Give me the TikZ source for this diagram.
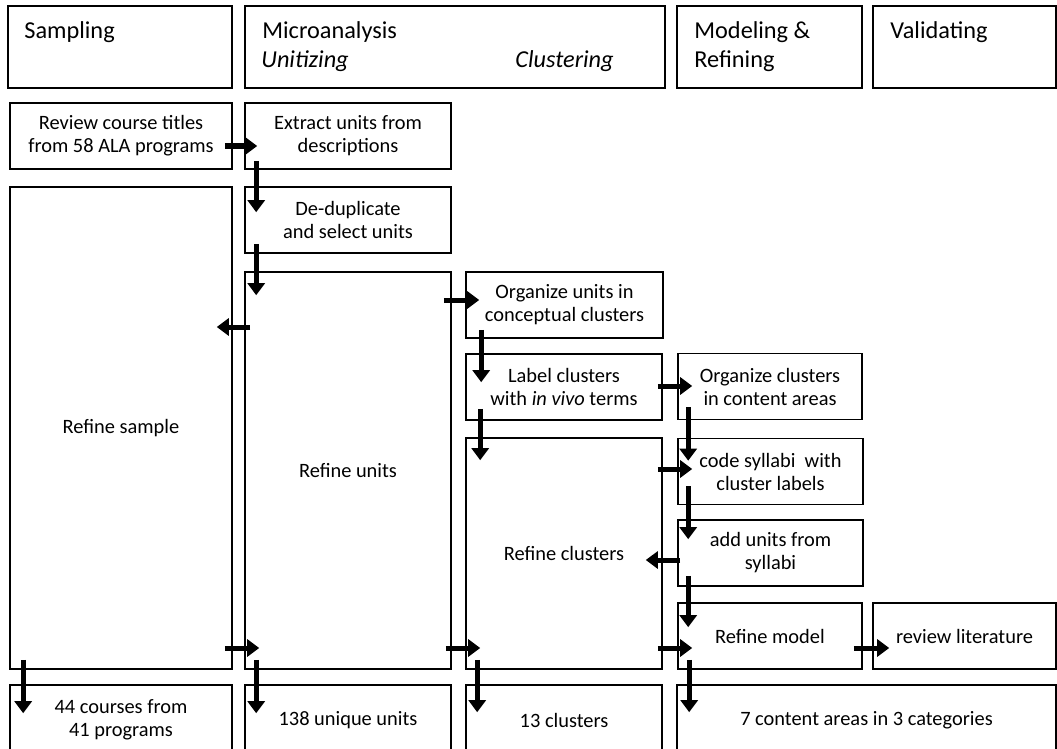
\documentclass[tikz,border=0pt]{standalone}
\usepackage{fontspec}
\setmainfont{Carlito}
\usetikzlibrary{arrows.meta}

\begin{document}
\begin{tikzpicture}[
    x=1pt, y=-1pt,
    every node/.style={font=\fontsize{20.4}{23}\selectfont},
    header/.style={
        rectangle,
        draw=black,
        line width=1.6pt,
        inner sep=0pt,
        minimum height=82pt
    },
    headtext/.style={
        anchor=base west,
        inner sep=0pt,
        font=\fontsize{24.3}{30}\selectfont
    },
    stage/.style={
        rectangle,
        draw=black,
        line width=1.6pt,
        align=center,
        inner sep=0pt,
        minimum height=66pt
    },
    flow/.style={
        -{Triangle[length=12pt, width=17pt]},
        line width=5pt
    }
]

\useasboundingbox (0,0) rectangle (1057,749);
\clip (0,0) rectangle (1057,749);

% Phase headers
\node[header, minimum width=224pt] (samp) at (120,47) {};
\node[header, minimum width=420pt] (micro) at (455,47) {};
\node[header, minimum width=185pt] (model) at (769.5,47) {};
\node[header, minimum width=183pt] (valid) at (964.5,47) {};

\node[headtext] (samplbl) at ([shift={(17,33)}]samp.north west) {Sampling};
\node[headtext] (microlbl) at ([shift={(18,33)}]micro.north west) {Microanalysis};
\node[headtext] (unitlbl) at ([shift={(17,62)}]micro.north west) {\itshape Unitizing};
\node[headtext] (clustlbl) at ([shift={(271,62)}]micro.north west) {\itshape Clustering};
\node[headtext] (modlbl) at ([shift={(18,33)}]model.north west) {Modeling \&};
\node[headtext] (reflbl) at ([shift={(18,62)}]model.north west) {Refining};
\node[headtext] (validlbl) at ([shift={(18,33)}]valid.north west) {Validating};

% Steps
\node[stage, minimum width=222pt] (review) at (121,136) {Review course titles\\from 58 ALA programs};
\node[stage, minimum width=206pt] (extract) at (348,136) {Extract units from\\descriptions};
\node[stage, minimum width=206pt] (dedup) at (348,220) {De-duplicate\\and select units};
\node[stage, minimum width=222pt, minimum height=482pt] (rsample) at (121,428) {Refine sample};
\node[stage, minimum width=206pt, minimum height=397pt] (runits) at (348,470.5) {Refine units};
\node[stage, minimum width=197pt] (orgunits) at (564.5,305) {Organize units in\\conceptual clusters};
\node[stage, minimum width=196pt] (label) at (564,387) {Label clusters\\with \textit{in vivo} terms};
\node[stage, minimum width=196pt, minimum height=231pt] (rclusters) at (564,553.5) {Refine clusters};
\node[stage, minimum width=184pt] (orgclus) at (770,386.5) {Organize clusters\\in content areas};
\node[stage, minimum width=185pt] (code) at (770.5,471.5) {code syllabi\ \ with\\cluster labels};
\node[stage, minimum width=185pt] (addunits) at (770.5,553) {add units from\\syllabi};
\node[stage, minimum width=184pt] (rmodel) at (770,636) {Refine model};
\node[stage, minimum width=183pt] (revlit) at (964.5,636) {review literature};

% Results
\node[stage, minimum width=222pt, minimum height=70pt] (c44) at (121,720) {44 courses from\\41 programs};
\node[stage, minimum width=206pt, minimum height=70pt] (u138) at (348,720) {138 unique units};
\node[stage, minimum width=196pt, minimum height=70pt] (c13) at (564,720) {13 clusters};
\node[stage, minimum width=379pt, minimum height=70pt] (ca7) at (866.5,720) {7 content areas in 3 categories};

% Flow arrows
\draw[flow] ([shift={(-8,10)}]review.east) -- ([shift={(13,10)}]extract.west);
\draw[flow] ([shift={(12,-9)}]extract.south west) -- ([shift={(12,26)}]dedup.north west);
\draw[flow] ([shift={(12,-10)}]dedup.south west) -- ([shift={(12,24)}]runits.north west);
\draw[flow] ([shift={(6,-143.5)}]runits.west) -- ([shift={(-16,-101)}]rsample.east);
\draw[flow] ([shift={(-8,-170.5)}]runits.east) -- ([shift={(14,-5)}]orgunits.west);
\draw[flow] ([shift={(16,-9)}]orgunits.south west) -- ([shift={(16,29)}]label.north west);
\draw[flow] ([shift={(15,-12)}]label.south west) -- ([shift={(15,23)}]rclusters.north west);
\draw[flow] ([shift={(-5,-1)}]label.east) -- ([shift={(15,-0.5)}]orgclus.west);
\draw[flow] ([shift={(11,-13)}]orgclus.south west) -- ([shift={(11,23)}]code.north west);
\draw[flow] ([shift={(-5,-84.5)}]rclusters.east) -- ([shift={(15,-2.5)}]code.west);
\draw[flow] ([shift={(11,-19)}]code.south west) -- ([shift={(11,20)}]addunits.north west);
\draw[flow] ([shift={(3,7)}]addunits.west) -- ([shift={(-17,6.5)}]rclusters.east);
\draw[flow] ([shift={(11,-11)}]addunits.south west) -- ([shift={(11,25)}]rmodel.north west);
\draw[flow] ([shift={(-5,94.5)}]rclusters.east) -- ([shift={(15,12)}]rmodel.west);
\draw[flow] ([shift={(-6,177.5)}]runits.east) -- ([shift={(15,94.5)}]rclusters.west);
\draw[flow] ([shift={(-8,220)}]rsample.east) -- ([shift={(15,177.5)}]runits.west);
\draw[flow] ([shift={(-9,12)}]rmodel.east) -- ([shift={(17,12)}]revlit.west);

% Down to results
\draw[flow] ([shift={(14,-10)}]rsample.south west) -- ([shift={(14,29)}]c44.north west);
\draw[flow] ([shift={(12,-10)}]runits.south west) -- ([shift={(12,29)}]u138.north west);
\draw[flow] ([shift={(12,-10)}]rclusters.south west) -- ([shift={(12,28)}]c13.north west);
\draw[flow] ([shift={(12,-10)}]rmodel.south west) -- ([shift={(13,28)}]ca7.north west);

\end{tikzpicture}
\end{document}
